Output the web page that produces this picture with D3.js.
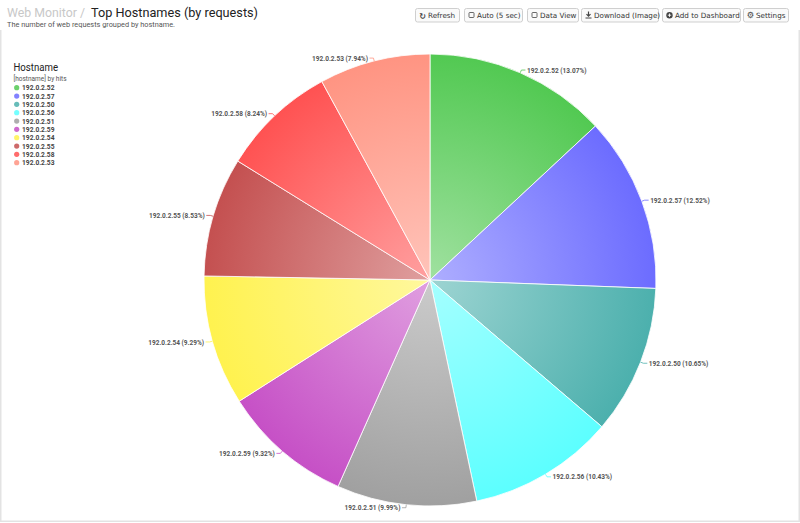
<!DOCTYPE html>
<html><head><meta charset="utf-8">
<script src="https://cdn.jsdelivr.net/npm/d3@7"></script>
<style>
html,body{margin:0;padding:0;background:#fff;overflow:hidden;}
svg{display:block;font-family:Roboto,"Noto Sans",sans-serif;}
</style></head>
<body>
<svg id="c" width="800" height="523"></svg>
<script>
const hosts = ["192.0.2.52","192.0.2.57","192.0.2.50","192.0.2.56","192.0.2.51","192.0.2.59","192.0.2.54","192.0.2.55","192.0.2.58","192.0.2.53"];
const percents = [13.07,12.52,10.65,10.43,9.99,9.32,9.29,8.53,8.24,7.94];
const colors = ["#52c952","#6c6cff","#4cb0ad","#5cffff","#a0a0a0","#c650c6","#fff24f","#c45050","#ff5252","#ff9482"];
const buttons = ["Refresh","Auto (5 sec)","Data View","Download (Image)","Add to Dashboard","Settings"];

const svg = d3.select("#c");

// condense text horizontally (reference uses a narrow font)
function condense(sel, f){
  sel.each(function(){
    const L = this.getComputedTextLength();
    d3.select(this).attr("textLength", L*f).attr("lengthAdjust","spacingAndGlyphs");
  });
}

// panel border
svg.append("path").attr("d", `M0.75,30 V521.25 H799.25 V30`).attr("fill","none").attr("stroke","#e3e3e3").attr("stroke-width",1.5);

// title
svg.append("text").attr("x",7).attr("y",17).attr("font-size",13.5).attr("fill","#c8c8c8").text("Web Monitor /")
  .attr("textLength",78).attr("lengthAdjust","spacingAndGlyphs");
svg.append("text").attr("x",91).attr("y",17).attr("font-size",13.5).attr("fill","#222").text("Top Hostnames (by requests)")
  .attr("textLength",167).attr("lengthAdjust","spacingAndGlyphs");
svg.append("text").attr("x",7).attr("y",26.5).attr("font-size",7.2).attr("fill","#555").text("The number of web requests grouped by hostname.")
  .attr("textLength",168).attr("lengthAdjust","spacingAndGlyphs");

// buttons
const bx = [415,464,527,581,662,743], bw = [44,58,51,77,78,45];
const icons = ["refresh","box","box","download","plus","gear"];
buttons.forEach((b,i)=>{
  const g = svg.append("g").attr("transform",`translate(${bx[i]},8)`);
  g.append("rect").attr("x",0.5).attr("y",0.5).attr("width",bw[i]).attr("height",13.5).attr("rx",2)
    .attr("fill","#fafafa").attr("stroke","#cfcfcf");
  const ic = icons[i];
  if (ic==="box") g.append("rect").attr("x",5).attr("y",4.5).attr("width",5).attr("height",5).attr("rx",0.8).attr("fill","none").attr("stroke","#444").attr("stroke-width",0.8);
  else if (ic==="refresh") g.append("text").attr("x",7.5).attr("y",10.5).attr("text-anchor","middle").attr("font-size",8).attr("font-family","DejaVu Sans").attr("fill","#444").attr("font-weight","bold").text("↻");
  else if (ic==="download") { g.append("path").attr("d","M7.5,3.5 V8 M5.5,6.2 L7.5,8.2 L9.5,6.2 M4.5,10 H10.5").attr("stroke","#444").attr("stroke-width",1.2).attr("fill","none"); }
  else if (ic==="plus") { g.append("circle").attr("cx",7.5).attr("cy",7.2).attr("r",3.2).attr("fill","#444"); g.append("path").attr("d","M5.8,7.2 H9.2 M7.5,5.5 V8.9").attr("stroke","#fff").attr("stroke-width",0.9); }
  else if (ic==="gear") { g.append("text").attr("x",7.5).attr("y",10.3).attr("text-anchor","middle").attr("font-size",8.5).attr("font-family","DejaVu Sans").attr("fill","#444").text("⚙"); }
  g.append("text").attr("x",13).attr("y",10.2).attr("font-size",7.2).attr("font-family","DejaVu Sans, Verdana, sans-serif").attr("fill","#333").text(b);
});

// legend
svg.append("text").attr("x",13.5).attr("y",71).attr("font-size",11.5).attr("fill","#222").text("Hostname")
  .attr("textLength",44.5).attr("lengthAdjust","spacingAndGlyphs");
svg.append("text").attr("x",13.5).attr("y",80.5).attr("font-size",7.2).attr("fill","#555").text("[hostname] by hits")
  .attr("textLength",53).attr("lengthAdjust","spacingAndGlyphs");
const ly = d3.scalePoint().domain(hosts).range([87.7,162.7]);
const lg = svg.append("g").selectAll("g").data(hosts).join("g").attr("transform",d=>`translate(0,${ly(d)})`);
lg.append("circle").attr("cx",16.7).attr("cy",0).attr("r",2.6).attr("fill",(d,i)=>colors[i]).attr("opacity",0.85);
lg.append("text").attr("x",22).attr("y",2.7).attr("font-size",7.6).attr("font-weight","bold").attr("fill","#444").text(d=>d)
  .attr("textLength",32.5).attr("lengthAdjust","spacingAndGlyphs");

// pie
const cx = 430, cy = 280, R = 226;
const defs = svg.append("defs");
colors.forEach((c,i)=>{
  const gr = defs.append("radialGradient").attr("id","g"+i).attr("gradientUnits","userSpaceOnUse")
    .attr("cx",0).attr("cy",0).attr("r",R).attr("fx",0).attr("fy",0);
  gr.append("stop").attr("offset","0%").attr("stop-color",d3.interpolateRgb(c,"#fff")(0.45));
  gr.append("stop").attr("offset","100%").attr("stop-color",c);
});
const pie = d3.pie().sort(null).value(d=>d.v);
const data = hosts.map((h,i)=>({h,v:percents[i],i}));
const arcs = pie(data);
const arc = d3.arc().innerRadius(0).outerRadius(R);
const pg = svg.append("g").attr("transform",`translate(${cx},${cy})`);
pg.selectAll("path.s").data(arcs).join("path").attr("class","s").attr("d",arc)
  .attr("fill",d=>`url(#g${d.data.i})`).attr("stroke","#fff").attr("stroke-opacity",0.8).attr("stroke-width",1);

// labels
const lab = pg.append("g").selectAll("g").data(arcs).join("g");
lab.each(function(d){
  const a = (d.startAngle+d.endAngle)/2;
  const s = Math.sin(a), c = -Math.cos(a);
  const x1 = R*s, y1 = R*c;
  const x2 = (R+3)*s, y2 = (R+3)*c;
  const right = s >= 0;
  const x3 = x2 + (right?4:-4);
  const g = d3.select(this);
  g.append("path").attr("d",`M${x1},${y1} L${x2},${y2} L${x3},${y2}`).attr("fill","none").attr("stroke",colors[d.data.i]).attr("stroke-width",0.8);
  const tx = g.append("text").attr("x",x3+(right?1.5:-1.5)).attr("y",y2+2.6).attr("text-anchor",right?"start":"end")
    .attr("font-size",7.4).attr("font-weight","bold").attr("fill","#555")
    .text(`${d.data.h} (${d.data.v.toFixed(2)}%)`);
  condense(tx, 0.88);
});
</script>
</body></html>
